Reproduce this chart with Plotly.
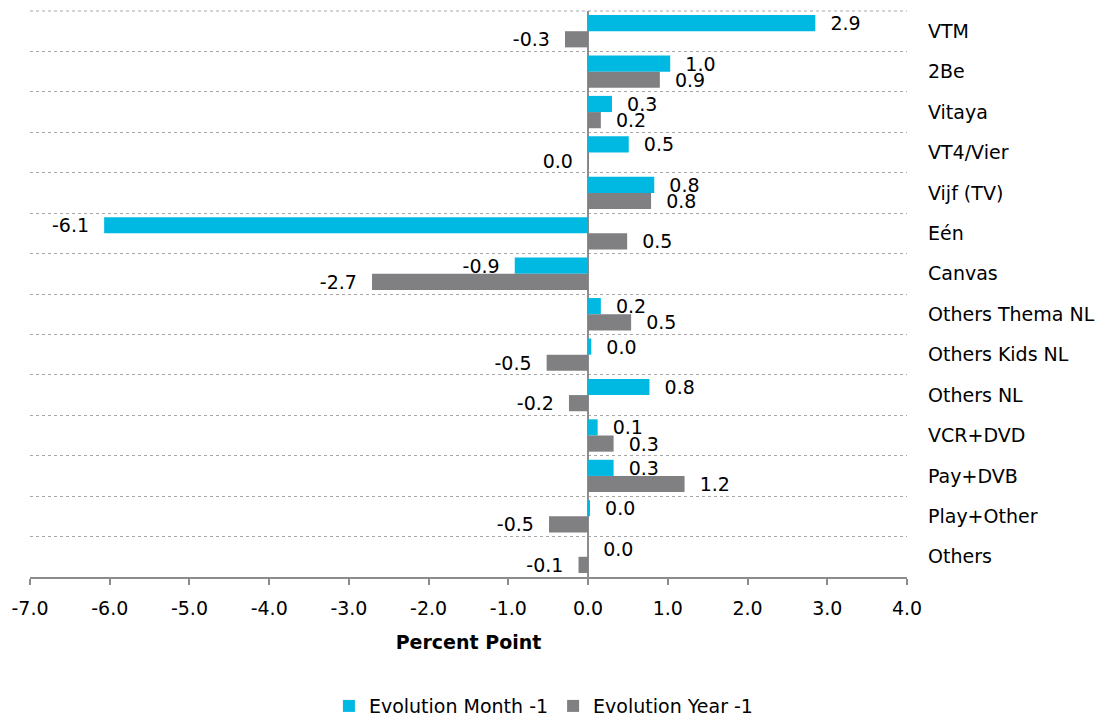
import plotly.graph_objects as go

channels = ["VTM", "2Be", "Vitaya", "VT4/Vier", "Vijf (TV)", "Eén", "Canvas",
            "Others Thema NL", "Others Kids NL", "Others NL", "VCR+DVD",
            "Pay+DVB", "Play+Other", "Others"]
evo_month = [2.85, 1.03, 0.30, 0.51, 0.83, -6.07, -0.92, 0.16, 0.04, 0.77, 0.12, 0.32, 0.02, 0.0]
evo_year = [-0.29, 0.90, 0.16, -0.001, 0.79, 0.49, -2.71, 0.54, -0.52, -0.24, 0.32, 1.21, -0.49, -0.12]
x_ticks = [-7, -6, -5, -4, -3, -2, -1, 0, 1, 2, 3, 4]

FONT = "DejaVu Sans"
CYAN = "#00B9E3"
GREY = "#808083"
AXIS = "#8c8c8c"
PAD = "\u00a0\u00a0"


def fmt(v):
    s = f"{v:.1f}".replace("-0.0", "0.0")
    return s + PAD if v < 0 else PAD + s


fig = go.Figure()
for name, vals, col in [("Evolution Month -1", evo_month, CYAN),
                        ("Evolution Year -1", evo_year, GREY)]:
    fig.add_bar(
        y=channels, x=vals, orientation="h", name=name,
        marker=dict(color=col, line=dict(width=0)),
        text=[fmt(v) for v in vals], textposition="outside",
        constraintext="none", textfont=dict(size=19, color="#000"),
        cliponaxis=False,
    )

fig.update_layout(
    width=1098, height=717,
    margin=dict(l=30, r=191, t=11, b=140, autoexpand=False),
    paper_bgcolor="white", plot_bgcolor="white",
    font=dict(family=FONT, size=19, color="#000"),
    barmode="group", bargap=0.2, bargroupgap=0,
    legend=dict(orientation="h", x=0.586, xanchor="center", y=-0.228, yanchor="middle",
                font=dict(size=19), itemwidth=30, traceorder="normal"),
    shapes=[dict(type="line", xref="paper", yref="paper", x0=0, x1=1, y0=1, y1=1,
                 line=dict(color="#a6a6a6", width=1, dash="dot"))],
)
fig.update_xaxes(
    range=[-7, 4], tickvals=x_ticks, ticktext=[f"{t:.1f}" for t in x_ticks],
    automargin=False, showgrid=False,
    zeroline=True, zerolinecolor=AXIS, zerolinewidth=2,
    showline=True, linecolor=AXIS, linewidth=2,
    ticks="outside", ticklen=6, tickcolor=AXIS, tickwidth=2, ticklabelstandoff=7,
    title=dict(text="<b>Percent Point</b>", font=dict(size=19), standoff=18),
)
fig.update_yaxes(
    autorange="reversed", side="right", tickson="boundaries", automargin=False,
    showgrid=True, gridcolor="#a6a6a6", griddash="dot", gridwidth=1,
    ticks="", ticklabelstandoff=20, showline=False,
)

# drop the default 8px page margin so the figure fills the window exactly
fig.write_html("out.html", config={"displayModeBar": False},
               post_script="document.body.style.margin='0';document.body.style.overflow='hidden';")
